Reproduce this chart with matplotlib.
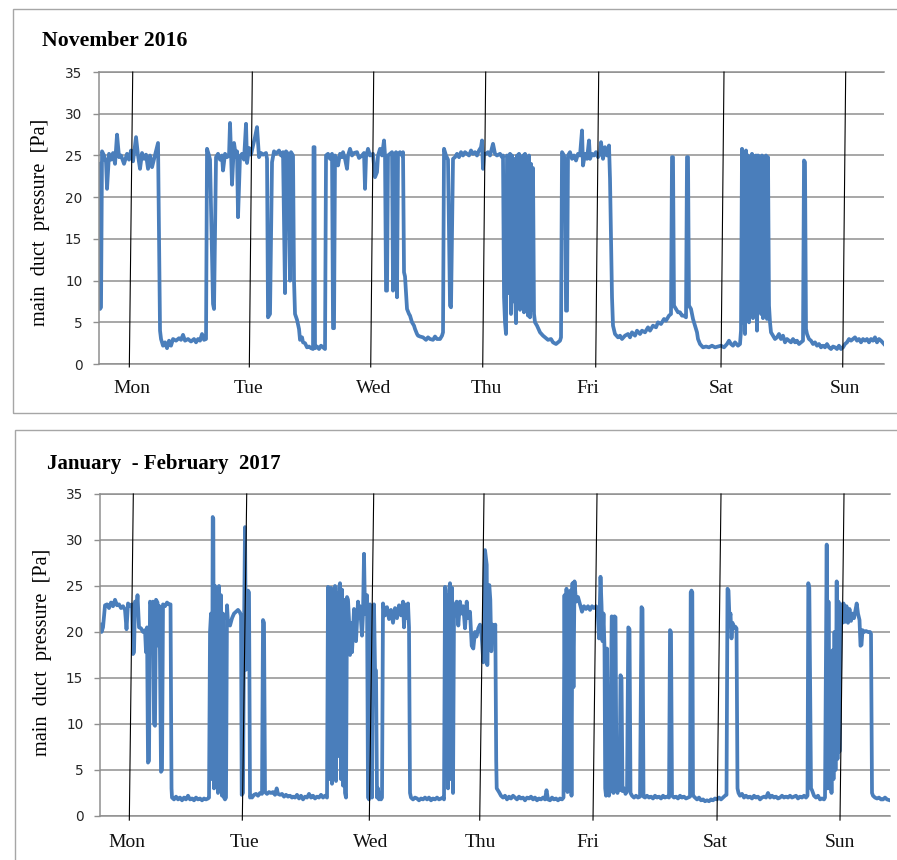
import matplotlib
matplotlib.use("Agg")
import matplotlib.pyplot as plt
from matplotlib.patches import Rectangle

# ---------------- data ----------------
day_names = ["Mon", "Tue", "Wed", "Thu", "Fri", "Sat", "Sun"]
y_ticks = [0, 5, 10, 15, 20, 25, 30, 35]

# November 2016: (sample index, main duct pressure [Pa])
nov_samples = [
    (0, 24.0), (1, 6.6), (2, 6.8), (3, 25.5), (5, 25.0), (7, 24.2), (8, 21.0), (10, 25.2), (12, 24.5),
    (14, 25.3), (16, 24.0), (18, 27.5), (20, 24.8), (22, 25.0), (25, 24.0), (28, 25.2), (30, 24.5),
    (32, 25.6), (34, 24.3), (37, 27.2), (39, 25.0), (41, 23.4), (43, 25.3), (45, 24.6), (47, 25.1),
    (49, 23.4), (51, 25.0), (53, 23.6), (57, 25.5), (59, 26.5), (61, 4.0), (62, 3.0), (64, 2.2),
    (66, 2.6), (68, 1.9), (70, 2.8), (72, 2.2), (74, 3.0), (77, 2.8), (80, 3.1), (82, 2.9), (84, 3.5),
    (86, 2.8), (89, 3.0), (92, 2.7), (95, 3.0), (97, 2.6), (99, 3.0), (101, 2.8), (103, 3.6), (105, 2.9),
    (107, 3.0), (108, 25.8), (110, 25.0), (111, 24.5), (114, 7.2), (115, 6.6), (117, 24.8), (119, 25.2),
    (121, 24.5), (123, 25.0), (124, 23.2), (126, 25.2), (128, 24.8), (130, 25.0), (131, 28.9), (132, 25.2),
    (133, 21.5), (135, 26.5), (137, 24.8), (138, 25.5), (139, 17.6), (141, 24.9), (143, 25.2), (145, 24.5),
    (147, 28.8), (148, 24.1), (150, 25.9), (152, 25.1), (154, 26.2), (156, 27.2), (158, 28.4), (160, 24.8),
    (162, 25.3), (164, 25.1), (167, 25.3), (168, 24.6), (169, 5.6), (171, 6.0), (173, 24.2), (175, 25.5),
    (177, 25.2), (180, 25.6), (182, 25.0), (184, 25.4), (186, 8.5), (187, 25.5), (189, 25.2), (191, 10.0),
    (192, 25.4), (194, 25.0), (195, 10.0), (196, 6.0), (198, 5.3), (200, 4.2), (201, 2.9), (203, 3.2),
    (204, 2.6), (206, 2.5), (208, 2.0), (210, 2.1), (212, 1.9), (214, 1.8), (214.5, 26.0), (215.5, 26.0),
    (216, 1.9), (218, 2.1), (220, 1.8), (222, 2.2), (224, 2.0), (226, 1.8), (227, 25.0), (229, 25.2),
    (231, 24.6), (233, 25.2), (234, 4.3), (235, 4.3), (236, 25.0), (238, 24.5), (239, 23.8), (241, 25.2),
    (243, 24.8), (244, 25.4), (246, 24.6), (248, 23.4), (249, 25.0), (251, 25.8), (253, 25.0), (255, 25.3),
    (258, 25.4), (260, 24.7), (263, 25.0), (265, 25.3), (266, 21.0), (267, 24.8), (269, 25.8), (271, 25.0),
    (274, 25.2), (276, 22.4), (278, 23.0), (279, 25.0), (281, 25.8), (283, 25.0), (285, 26.8), (286, 25.0),
    (287, 8.8), (288, 8.8), (289, 25.0), (291, 25.2), (293, 25.4), (294, 8.8), (295, 25.0), (297, 25.4),
    (298, 8.0), (299, 25.2), (301, 25.4), (303, 25.0), (304, 25.4), (305, 11.0), (306, 10.5), (307, 8.5),
    (308, 6.6), (310, 6.0), (311, 5.8), (313, 5.0), (315, 4.6), (316, 4.2), (318, 3.6), (319, 3.4),
    (321, 3.3), (324, 3.2), (327, 2.9), (329, 3.2), (331, 3.0), (334, 2.9), (336, 3.3), (338, 3.0),
    (341, 3.0), (343, 3.4), (344, 3.8), (345, 25.8), (347, 25.0), (349, 24.5), (351, 7.0), (352, 6.8),
    (354, 24.6), (356, 24.8), (358, 25.2), (360, 24.8), (362, 25.4), (364, 25.0), (366, 25.4), (368, 25.2),
    (370, 25.0), (372, 25.6), (374, 25.2), (376, 25.4), (378, 25.0), (380, 25.6), (382, 26.0), (383, 26.8),
    (384, 23.4), (385, 25.2), (387, 25.2), (389, 25.4), (391, 25.0), (394, 26.4), (396, 25.2), (398, 25.0),
    (401, 25.2), (403, 24.8), (404, 25.0), (405, 8.0), (406, 5.0), (407, 3.6), (408, 25.0), (409, 24.8),
    (410, 8.5), (411, 25.2), (412, 6.0), (413, 25.0), (414, 7.5), (415, 24.6), (416, 9.0), (417, 4.9),
    (418, 25.0), (419, 7.0), (420, 25.2), (421, 6.5), (422, 24.8), (423, 8.0), (424, 25.0), (425, 6.2),
    (426, 25.2), (427, 7.0), (428, 24.8), (429, 5.8), (430, 25.0), (431, 5.6), (432, 24.0), (433, 6.5),
    (434, 23.5), (435, 6.0), (436, 5.0), (438, 4.6), (441, 3.8), (444, 3.4), (446, 3.2), (449, 2.9),
    (452, 3.0), (454, 2.6), (457, 2.4), (459, 2.6), (461, 2.8), (462, 3.2), (463, 25.4), (465, 25.0),
    (466, 23.8), (467, 6.4), (468, 6.4), (469, 25.0), (471, 25.4), (473, 24.6), (475, 25.0), (477, 24.4),
    (479, 25.2), (481, 25.0), (483, 28.0), (484, 23.8), (486, 25.2), (488, 24.6), (490, 26.8), (491, 24.6),
    (493, 25.2), (495, 25.0), (497, 25.4), (499, 24.8), (501, 25.2), (502, 26.6), (504, 24.6), (506, 26.0),
    (508, 25.0), (510, 26.2), (511, 22.2), (512, 15.0), (513, 8.0), (514, 4.6), (516, 3.6), (519, 3.2),
    (521, 3.4), (523, 3.0), (526, 3.4), (529, 3.6), (531, 3.2), (533, 3.8), (536, 3.4), (538, 4.0),
    (541, 3.6), (543, 4.0), (546, 3.8), (549, 4.4), (551, 4.0), (554, 4.6), (557, 4.4), (559, 5.0),
    (562, 4.8), (565, 5.4), (567, 5.2), (570, 5.8), (572, 6.0), (573, 24.8), (574, 24.8), (575, 7.0),
    (577, 6.6), (579, 6.2), (581, 6.2), (583, 5.8), (585, 5.8), (587, 5.6), (588, 24.8), (589, 24.8),
    (590, 7.0), (592, 6.6), (594, 5.4), (596, 4.6), (598, 3.8), (599, 3.0), (601, 2.4), (604, 2.0),
    (607, 2.1), (610, 2.0), (613, 2.2), (616, 2.0), (619, 2.1), (622, 2.2), (625, 2.0), (628, 2.4),
    (630, 2.8), (632, 2.4), (634, 2.2), (636, 2.6), (639, 2.2), (641, 2.4), (642, 4.0), (643, 25.8),
    (644, 5.0), (645, 25.0), (646, 3.6), (647, 25.6), (648, 6.0), (649, 25.0), (650, 5.0), (651, 24.8),
    (652, 6.5), (653, 25.2), (654, 5.5), (655, 24.9), (656, 7.0), (657, 25.0), (658, 4.0), (659, 25.0),
    (661, 24.8), (662, 6.0), (663, 25.0), (664, 5.5), (665, 24.8), (666, 6.5), (667, 25.0), (668, 5.4),
    (669, 24.8), (670, 7.0), (671, 5.0), (672, 3.8), (674, 3.4), (676, 3.0), (678, 3.2), (680, 3.6),
    (682, 3.0), (684, 3.4), (686, 2.6), (688, 3.0), (690, 2.8), (692, 2.6), (694, 3.0), (696, 2.6),
    (698, 2.8), (700, 2.4), (702, 2.6), (704, 2.8), (705, 24.4), (706, 24.2), (707, 4.2), (708, 3.6),
    (710, 3.0), (712, 2.8), (714, 2.4), (716, 2.6), (718, 2.2), (720, 2.4), (722, 2.0), (724, 2.2),
    (726, 2.0), (728, 2.4), (730, 2.0), (732, 1.8), (734, 2.1), (736, 2.0), (738, 1.8), (740, 2.2),
    (742, 1.8), (744, 2.0), (746, 2.4), (748, 2.6), (750, 3.0), (752, 2.8), (754, 3.0), (756, 3.2),
    (758, 2.8), (760, 3.0), (762, 2.6), (764, 3.0), (766, 2.8), (768, 3.0), (770, 2.6), (772, 3.0),
    (774, 2.8), (776, 3.2), (778, 2.6), (780, 3.0), (782, 2.8), (785, 2.4),
]
nov_day_line_top = [33.7, 153.3, 274.7, 386.7, 499.7, 625.0, 746.7]
nov_day_line_bottom = [30.3, 150.3, 271.7, 383.7, 496.7, 622.0, 743.7]
nov_day_label_x = [32.7, 149.0, 275.0, 387.0, 489.0, 622.0, 745.7]

# January - February 2017
jan_samples = [
    (0, 20.8), (1.5, 20.0), (3, 20.5), (5, 22.9), (7, 23.0), (9, 22.6), (11, 23.2), (13, 22.8), (15, 23.5),
    (17, 22.9), (19, 23.0), (21, 22.6), (23, 22.8), (25, 22.4), (26.5, 20.3), (28, 23.1), (30, 22.8),
    (32, 23.0), (33, 17.6), (34, 17.8), (35, 23.3), (36.5, 22.5), (37.5, 24.0), (39, 20.5), (41, 20.4),
    (43, 20.0), (45, 20.2), (46, 17.8), (47, 20.5), (48, 5.8), (49, 6.0), (50, 23.3), (51, 23.0),
    (52, 19.3), (53, 23.3), (54, 10.0), (55, 9.8), (56, 23.5), (57.5, 23.2), (58.5, 18.5), (59.5, 22.8),
    (61, 4.8), (62, 5.0), (63, 23.0), (65, 22.8), (67, 23.2), (69, 23.0), (70.5, 23.0), (71.5, 3.0),
    (72, 2.0), (74, 1.8), (76, 2.1), (78, 1.8), (80, 2.0), (82, 1.7), (84, 2.0), (86, 1.8), (88, 2.2),
    (90, 1.8), (92, 1.9), (94, 1.7), (96, 2.0), (98, 1.8), (100, 1.9), (102, 1.7), (104, 1.9), (106, 1.8),
    (108, 1.9), (109, 2.0), (110, 20.0), (111, 22.0), (112, 4.0), (112.7, 32.5), (113.3, 32.3), (114, 3.0),
    (115, 25.0), (116, 5.0), (117, 24.6), (118, 2.5), (119, 25.0), (120, 3.5), (121, 24.0), (122, 2.2),
    (123, 22.0), (124, 2.0), (125, 1.8), (126, 2.0), (127, 22.9), (128, 21.0), (130, 20.7), (132, 21.5),
    (134, 22.0), (136, 22.2), (138, 22.4), (140, 22.1), (141, 21.8), (141.7, 2.3), (143, 2.5), (144, 20.0),
    (145, 31.4), (146, 15.9), (147, 17.0), (148, 24.5), (149, 24.3), (150, 2.0), (151, 2.2), (152, 2.0),
    (154, 2.3), (156, 2.4), (158, 2.2), (160, 2.5), (162, 2.4), (163, 21.3), (164, 21.0), (165, 2.6),
    (167, 2.4), (169, 2.6), (171, 2.5), (173, 2.6), (175, 2.3), (176.7, 3.0), (178, 2.4), (180, 2.3),
    (182, 2.4), (184, 2.1), (186, 2.3), (188, 2.1), (190, 2.2), (192, 2.0), (193, 2.1), (195, 2.0),
    (197, 2.3), (199, 1.9), (201, 2.2), (203, 1.8), (205, 2.1), (207, 2.0), (209, 2.4), (211, 2.0),
    (213, 2.2), (215, 1.9), (217, 2.1), (219, 2.0), (221, 2.3), (223, 2.0), (225, 2.2), (227, 2.0),
    (228, 24.9), (229, 22.0), (230, 4.0), (231, 24.8), (232, 3.5), (233, 24.5), (234, 5.0), (235, 25.0),
    (236, 3.8), (237, 24.2), (238, 6.5), (239, 24.8), (240, 25.3), (241, 4.0), (242, 24.6), (243, 3.3),
    (244, 23.5), (245, 2.5), (246, 2.0), (247, 23.8), (248, 23.5), (249, 21.3), (250, 17.5), (251, 21.0),
    (252, 17.8), (253, 20.0), (254, 22.5), (256, 19.0), (258, 23.3), (259, 21.5), (260, 22.8), (262, 19.6),
    (263, 22.0), (264, 28.5), (265, 22.0), (266, 23.1), (267, 24.0), (268, 2.0), (269, 1.8), (270, 23.0),
    (271, 22.4), (272, 2.0), (273, 22.0), (274, 23.0), (275, 16.0), (276, 15.8), (277, 2.0), (278, 3.0),
    (279, 1.8), (280, 2.2), (281, 1.8), (282, 2.0), (283, 23.1), (285, 21.8), (287, 22.7), (289, 21.4),
    (291, 22.4), (293, 21.0), (295, 22.6), (297, 21.5), (299, 22.9), (301, 21.8), (303, 23.3), (304, 20.5),
    (305, 23.0), (307, 21.5), (308, 23.1), (309, 20.5), (310, 2.5), (311, 2.0), (313, 1.8), (315, 2.0),
    (317, 1.9), (319, 1.7), (321, 1.9), (323, 1.8), (325, 2.0), (327, 1.8), (329, 2.0), (331, 1.7),
    (333, 1.9), (335, 1.8), (337, 2.0), (339, 1.8), (341, 1.9), (343, 2.0), (344, 1.8),
    (345, 24.9), (346, 5.0), (347, 24.0), (348, 3.0), (349, 24.5), (350, 25.3), (351, 4.0), (352, 24.8),
    (353, 2.5), (354, 22.0), (355, 22.9), (356.7, 23.3), (358.3, 20.7), (360, 23.3), (361.5, 22.0),
    (363.3, 22.8), (365, 20.4), (366.7, 23.3), (368, 21.5), (370, 22.2), (371.7, 18.5), (373.3, 18.2),
    (375, 20.0), (376.5, 19.5), (378.3, 20.4), (380, 20.8), (381.7, 19.5), (383.3, 16.7), (384, 20.0),
    (385, 28.9), (386, 28.0), (386.7, 27.3), (387.3, 16.4), (388.3, 24.0), (389.3, 25.1), (390.3, 23.5),
    (391.3, 17.9), (392.5, 20.8), (394, 20.0), (395.3, 20.8), (396.2, 6.0), (396.7, 3.0), (399, 2.6),
    (401, 2.2), (403, 2.0), (405, 2.2), (407, 1.8), (409, 2.1), (411, 1.9), (413, 2.2), (415, 2.0),
    (417, 1.8), (419, 2.1), (421, 1.9), (423, 2.0), (425, 1.7), (427, 2.0), (429, 1.9), (431, 2.1),
    (433, 1.8), (435, 2.0), (437, 1.7), (439, 1.9), (441, 1.8), (443, 2.0), (445, 1.8), (446.5, 2.8),
    (448, 1.8), (450, 1.7), (452, 2.0), (454, 1.8), (456, 1.9), (458, 1.7), (460, 1.9), (462, 1.8),
    (463.5, 2.0), (464.5, 24.0), (465.5, 5.0), (466.5, 24.7), (467.5, 2.6), (468.5, 23.0), (469.5, 8.0),
    (470.5, 24.5), (471.5, 2.2), (472.5, 25.3), (473.5, 14.0), (474.5, 25.5), (476, 23.3), (478, 23.8),
    (480, 23.0), (482, 22.2), (484, 22.8), (486, 22.5), (488, 22.8), (490, 22.4), (492, 22.8), (494, 22.6),
    (496, 22.8), (497.5, 22.5), (499, 19.3), (500.5, 26.0), (501.5, 23.0), (502.5, 19.0), (503.5, 22.0),
    (504.5, 18.2), (505.2, 3.0), (506, 2.2), (507, 18.2), (508, 2.8), (509, 2.2), (510, 3.0), (511.7, 21.7),
    (512.5, 21.5), (513.5, 2.5), (514.5, 21.7), (515.5, 21.6), (516.5, 3.0), (517.5, 2.5), (518.5, 6.0),
    (519.5, 2.8), (520.5, 15.3), (521.5, 15.0), (522.5, 2.7), (524, 3.0), (525.5, 2.4), (527, 2.7),
    (528.3, 20.5), (529.5, 20.3), (530.5, 2.5), (532, 2.2), (534, 2.0), (536, 2.2), (538, 2.0), (540, 2.1),
    (541.5, 22.7), (542.5, 22.5), (543.5, 2.1), (545, 2.0), (547, 2.2), (549, 2.0), (551, 2.1), (553, 1.9),
    (555, 2.2), (557, 2.0), (559, 2.1), (561, 1.9), (563, 2.2), (565, 2.0), (567, 2.1), (569, 2.0),
    (570, 20.2), (571, 20.0), (572, 2.2), (574, 2.0), (576, 2.1), (578, 1.9), (580, 2.2), (582, 2.0),
    (584, 2.1), (586, 1.9), (588, 2.0), (590, 2.1), (590.7, 24.3), (591.5, 24.5), (592.3, 24.3), (593, 2.3),
    (594, 2.1), (595, 2.0), (597, 1.8), (599, 2.0), (601, 1.7), (603, 1.8), (605, 1.6), (607, 1.7),
    (609, 1.6), (611, 1.8), (613, 1.7), (615, 1.9), (617, 1.8), (619, 2.0), (621, 1.8), (623, 2.0),
    (625, 2.2), (626.5, 2.3), (627.5, 24.7), (628.5, 24.5), (629.5, 21.3), (630.5, 22.0), (631.5, 19.3),
    (632.5, 21.0), (633.5, 20.4), (635, 20.6), (636.5, 20.4), (637.5, 3.0), (638.5, 2.5), (640, 2.2),
    (642, 2.4), (644, 2.0), (646, 2.2), (648, 2.0), (650, 2.1), (652, 1.9), (654, 2.2), (656, 2.0),
    (658, 2.1), (660, 1.8), (662, 2.0), (664, 2.1), (666, 2.0), (668, 2.5), (670, 2.0), (672, 2.2),
    (674, 2.0), (676, 2.1), (678, 1.9), (680, 2.0), (682, 2.2), (684, 2.0), (686, 2.1), (688, 2.0),
    (690, 2.2), (692, 2.0), (694, 2.1), (696, 2.2), (698, 1.9), (700, 2.1), (702, 2.0), (704, 2.2),
    (706, 2.0), (707.5, 2.2), (708.3, 25.3), (709.3, 24.8), (711, 3.0), (712, 2.8), (714, 2.2), (716, 2.0),
    (718, 2.2), (720, 1.8), (722, 1.9), (724, 1.8), (725, 2.0), (726.7, 29.5), (727.7, 3.0), (728.5, 23.3),
    (729.5, 3.0), (730.5, 12.0), (731.5, 2.5), (732.5, 18.0), (733.5, 4.0), (734.5, 20.0), (735.5, 5.0),
    (736.7, 25.5), (737.5, 6.2), (738.5, 23.3), (739.5, 7.0), (740.5, 19.3), (741.5, 23.0), (742.5, 21.0),
    (743.5, 23.1), (745, 21.1), (746.5, 22.8), (748, 21.0), (749.5, 22.5), (751, 21.2), (752.5, 22.0),
    (754, 21.5), (755.5, 22.4), (756.7, 23.1), (758, 22.0), (759.5, 21.3), (760.5, 18.5), (761.5, 18.6),
    (762.5, 20.2), (764, 20.0), (766, 20.1), (768, 20.0), (770, 20.0), (771, 19.8), (772, 2.5), (773, 2.2),
    (775, 2.0), (777, 1.9), (779, 2.0), (781, 1.8), (783, 1.8), (785, 2.0), (787, 1.8), (790, 1.7),
]
jan_day_line_top = [33.3, 146.7, 273.7, 384.0, 497.0, 621.0, 744.0]
jan_day_line_bottom = [29.3, 142.3, 269.3, 379.7, 493.0, 617.0, 740.0]
jan_day_label_x = [26.7, 144.0, 270.5, 380.0, 488.0, 615.5, 740.0]

# ---------------- style ----------------
LINE_BLUE = "#4a7ebb"
GRID = "#8f8f8f"
SERIF = ["Liberation Serif", "DejaVu Serif"]

fig = plt.figure(figsize=(8.97, 8.60), dpi=100)
fig.patch.set_facecolor("white")

# panel frames
fig.add_artist(Rectangle((0.0145, 0.5198), 1.0, 0.4697, transform=fig.transFigure,
                         fill=False, edgecolor="#a6a6a6", lw=1.0))
fig.add_artist(Rectangle((0.0167, -0.05), 1.0, 0.55, transform=fig.transFigure,
                         fill=False, edgecolor="#a6a6a6", lw=1.0))


def draw_panel(ax, samples, tops, bottoms, label_x, xmax, line_bottom):
    t = [s[0] for s in samples]
    p = [s[1] for s in samples]
    ax.plot(t, p, color=LINE_BLUE, lw=2.7, solid_joinstyle="round", zorder=2)
    ax.set_xlim(0, xmax)
    ax.set_ylim(0, 35)
    ax.set_yticks(y_ticks)
    ax.set_xticks([])
    ax.yaxis.grid(True, color=GRID, lw=1.1, zorder=0)
    ax.set_axisbelow(True)
    for side in ["top", "bottom", "left"]:
        ax.spines[side].set_color(GRID)
        ax.spines[side].set_linewidth(1.1)
    ax.spines["right"].set_visible(False)
    ax.tick_params(axis="y", direction="out", length=4, width=1.0, color=GRID,
                   pad=8, labelsize=9.8, labelcolor="#262626")
    for xt, xb in zip(tops, bottoms):
        ax.plot([xt, xb], [35, line_bottom], color="black", lw=0.8, clip_on=False, zorder=3)
    for name, xl in zip(day_names, label_x):
        ax.text(xl, -2.9, name, ha="center", va="center", fontsize=14,
                family=SERIF, color="#111111")


ax1 = fig.add_axes([0.1104, 0.5767, 0.8751, 0.3395])
draw_panel(ax1, nov_samples, nov_day_line_top, nov_day_line_bottom, nov_day_label_x, 785, -0.35)

ax2 = fig.add_axes([0.1115, 0.0512, 0.8807, 0.3744])
draw_panel(ax2, jan_samples, jan_day_line_top, jan_day_line_bottom, jan_day_label_x, 790, -0.45)

fig.text(0.0468, 0.946, "November 2016", fontsize=15.7, fontweight="bold", family=SERIF,
         va="baseline", ha="left")
fig.text(0.0524, 0.4543, "January  - February  2017", fontsize=15, fontweight="bold",
         family=SERIF, va="baseline", ha="left")

fig.text(0.0457, 0.7413, "main  duct  pressure  [Pa]", rotation=90, fontsize=14.6,
         family=SERIF, ha="center", va="center")
fig.text(0.0474, 0.241, "main  duct  pressure  [Pa]", rotation=90, fontsize=14.6,
         family=SERIF, ha="center", va="center")

fig.savefig("out.png", dpi=100, facecolor="white")
